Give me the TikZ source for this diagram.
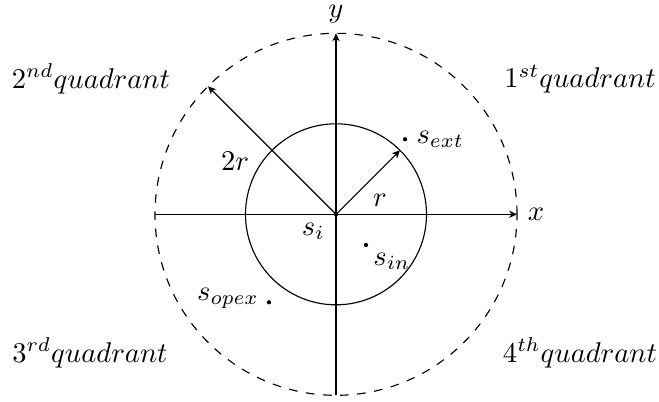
\documentclass[tikz,border=0pt]{standalone}
\usetikzlibrary{arrows.meta,calc}
\begin{document}
\begin{tikzpicture}[x=0.35pt,y=0.35pt,
  axis/.style={-{Stealth[length=2.8pt,width=2.6pt,inset=0.9pt]}},
  dotmark/.style={circle,fill=black,inner sep=0pt,minimum size=1.5pt},
  lbl/.style={inner sep=0pt}]
\useasboundingbox (0,0) rectangle (659,401);
\coordinate (O) at (336,186.7);
% circles
\draw (O) circle[radius=90.5];
\draw[dashed] (O) circle[radius=181];
% axes
\coordinate (xl) at ($(O)+(-181,0)$);
\coordinate (xr) at ($(O)+(181,0)$);
\coordinate (yb) at ($(O)+(0,-181)$);
\coordinate (yt) at ($(O)+(0,181)$);
\draw[axis] (xl) -- (xr);
\draw[axis] (yb) -- (yt);
\node[lbl] (xlab) at (536,186.7) {$x$};
\node[lbl] (ylab) at (336,387) {$y$};
% radii
\coordinate (R2) at ($(O)+(135:181)$);
\coordinate (R1) at ($(O)+(45:90.5)$);
\draw[axis] (O) -- (R2);
\draw[axis] (O) -- (R1);
\node[lbl] (lab2r) at (235,239.3) {$2r$};
\node[lbl] (labr) at (380,201) {$r$};
% points
\node[dotmark] (si) at (O) {};
\node[lbl] (silab) at (313.3,169.3) {$s_i$};
\node[dotmark] (sext) at (405,261.7) {};
\node[lbl,anchor=west] (sextlab) at (416,262) {$s_{ext}$};
\node[dotmark] (sin) at (366,156) {};
\node[lbl] (sinlab) at (392,139.3) {$s_{in}$};
\node[dotmark] (sopex) at (269,98.7) {};
\node[lbl] (sopexlab) at (228,102.7) {$s_{opex}$};
% quadrants
\node[lbl] (q2) at (91,322) {$2^{nd}quadrant$};
\node[lbl] (q1) at (580,322) {$1^{st}quadrant$};
\node[lbl] (q3) at (90,48) {$3^{rd}quadrant$};
\node[lbl] (q4) at (580,48) {$4^{th}quadrant$};
\end{tikzpicture}
\end{document}
